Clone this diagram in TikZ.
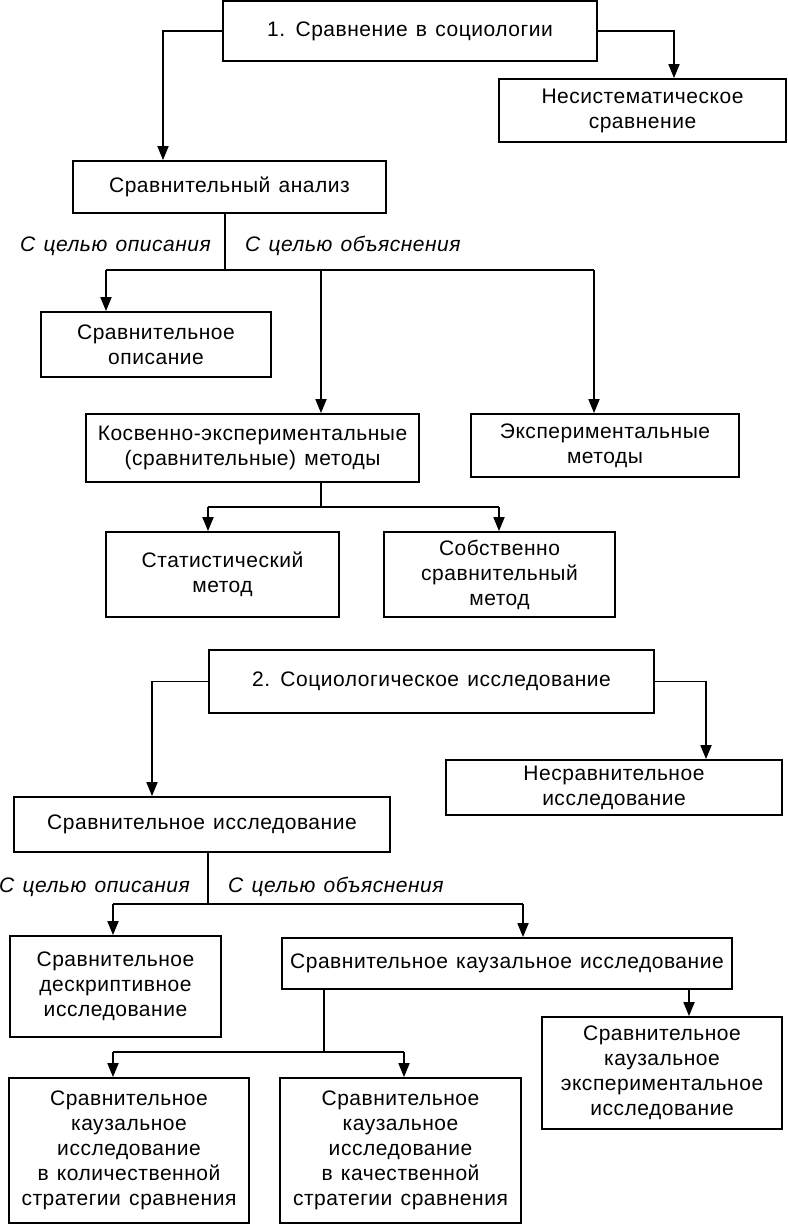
\documentclass[tikz,border=0pt]{standalone}
\usepackage{fontspec}
\setmainfont[LetterSpace=2.5,WordSpace=1.3]{Liberation Sans}
\usetikzlibrary{arrows.meta}
\begin{document}
\begin{tikzpicture}[x=1pt,y=-1pt,
  box/.style={draw, line width=1.8pt, align=center, inner sep=0pt,
    font=\fontsize{21}{25}\selectfont},
  lbl/.style={inner sep=0pt, font=\fontsize{21}{25}\selectfont\itshape},
  ln/.style={line width=1.8pt},
  arr/.style={line width=1.8pt, -{Triangle[length=14pt,width=11pt]}}]
\useasboundingbox[fill=white] (0,0) rectangle (787,1225);
% boxes
\node[box, minimum width=374pt, minimum height=60pt] (b1) at (410,31) {1. Сравнение в социологии};
\node[box, minimum width=287pt, minimum height=63pt] (b2) at (642.5,110.5) {Несистематическое\\сравнение};
\node[box, minimum width=313pt, minimum height=52pt] (b3) at (229.5,187) {Сравнительный анализ};
\node[box, minimum width=230pt, minimum height=65pt] (b4) at (156,344.5) {Сравнительное\\описание};
\node[box, minimum width=333pt, minimum height=68pt] (b5) at (252.5,448) {Косвенно-экспериментальные\\(сравнительные) методы};
\node[box, minimum width=268pt, minimum height=63pt] (b6) at (605,445.5) {Экспериментальные\\методы};
\node[box, minimum width=233pt, minimum height=85pt] (b7) at (222.5,574.5) {Статистический\\метод};
\node[box, minimum width=231pt, minimum height=85pt] (b8) at (499.5,574.5) {Собственно\\сравнительный\\метод};
\node[box, minimum width=445pt, minimum height=63pt] (b9) at (431.5,681.5) {2. Социологическое исследование};
\node[box, minimum width=336pt, minimum height=55pt] (b10) at (614,787.5) {Несравнительное\\исследование};
\node[box, minimum width=376pt, minimum height=55pt] (b11) at (202,824.5) {Сравнительное исследование};
\node[box, minimum width=211pt, minimum height=101pt] (b12) at (115.5,986.5) {Сравнительное\\дескриптивное\\исследование};
\node[box, minimum width=450pt, minimum height=51pt] (b13) at (507,963.5) {Сравнительное каузальное исследование};
\node[box, minimum width=240pt, minimum height=112pt] (b14) at (662,1073) {Сравнительное\\каузальное\\экспериментальное\\исследование};
\node[box, minimum width=240pt, minimum height=145pt] (b15) at (129,1150.5) {Сравнительное\\каузальное\\исследование\\в количественной\\стратегии сравнения};
\node[box, minimum width=241pt, minimum height=145pt] (b16) at (400.5,1150.5) {Сравнительное\\каузальное\\исследование\\в качественной\\стратегии сравнения};
% labels
\node[lbl, anchor=east] (l1) at (211,246) {С целью описания};
\node[lbl, anchor=west] (l2) at (245,246) {С целью объяснения};
\node[lbl, anchor=east] (l3) at (190,887) {С целью описания};
\node[lbl, anchor=west] (l4) at (228,887) {С целью объяснения};
% junctions
\coordinate (j1) at (163,0);
\coordinate (j2) at (674,0);
\coordinate (j3) at (225,270);
\coordinate (j3a) at (106,270);
\coordinate (j3b) at (321,270);
\coordinate (j3c) at (594,270);
\coordinate (j4) at (321,507);
\coordinate (j4a) at (208,507);
\coordinate (j4b) at (499,507);
\coordinate (j5) at (152,0);
\coordinate (j6) at (706,0);
\coordinate (j7) at (208,904);
\coordinate (j7a) at (113,904);
\coordinate (j7b) at (523,904);
\coordinate (j8) at (324,1052);
\coordinate (j8a) at (113,1052);
\coordinate (j8b) at (404,1052);
\coordinate (j9) at (689,0);
% connectors part 1
\draw[arr] (b1.west) -| (b3.north -| j1);
\draw[arr] (b1.east) -| (b2.north -| j2);
\draw[ln] (b3.south -| j3) -- (j3);
\draw[ln] (j3a) -- (j3c);
\draw[arr] (j3a) -- (b4.north -| j3a);
\draw[arr] (j3b) -- (b5.north -| j3b);
\draw[arr] (j3c) -- (b6.north -| j3c);
\draw[ln] (b5.south -| j4) -- (j4);
\draw[ln] (j4a) -- (j4b);
\draw[arr] (j4a) -- (b7.north -| j4a);
\draw[arr] (j4b) -- (b8.north -| j4b);
% connectors part 2
\draw[arr] (b9.west) -| (b11.north -| j5);
\draw[arr] (b9.east) -| (b10.north -| j6);
\draw[ln] (b11.south -| j7) -- (j7);
\draw[ln] (j7a) -- (j7b);
\draw[arr] (j7a) -- (b12.north -| j7a);
\draw[arr] (j7b) -- (b13.north -| j7b);
\draw[ln] (b13.south -| j8) -- (j8);
\draw[ln] (j8a) -- (j8b);
\draw[arr] (j8a) -- (b15.north -| j8a);
\draw[arr] (j8b) -- (b16.north -| j8b);
\draw[arr] (b13.south -| j9) -- (b14.north -| j9);
\end{tikzpicture}
\end{document}
